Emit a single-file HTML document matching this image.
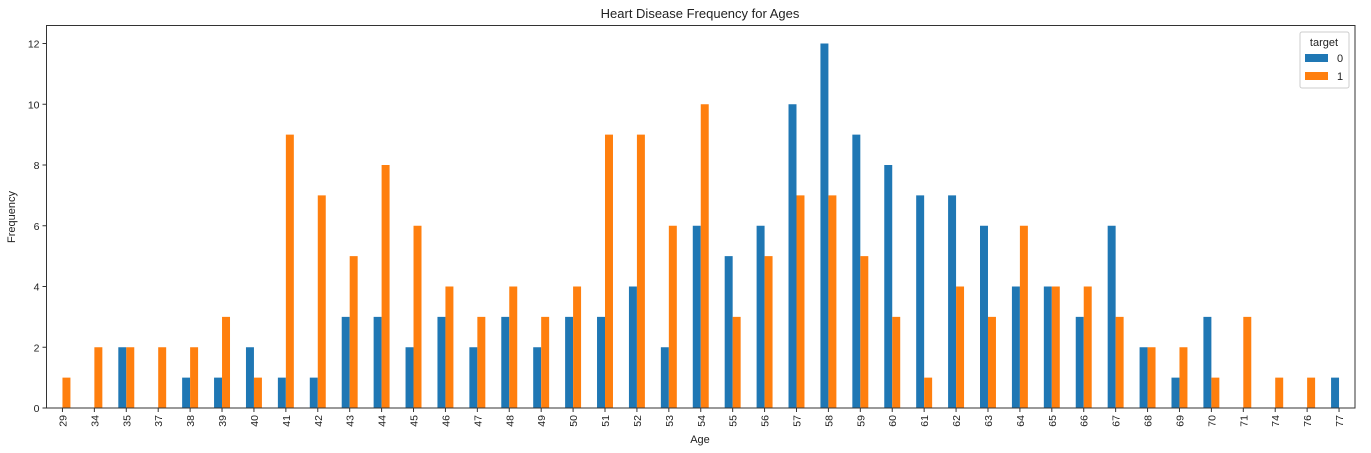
<!DOCTYPE html>
<html><head><meta charset="utf-8"><style>
html,body{margin:0;padding:0;background:#fff;}
svg{display:block;font-family:"Liberation Sans","DejaVu Sans",sans-serif;}
</style></head><body>
<svg id="chart" width="1371" height="453">
<text x="700" y="18" text-anchor="middle" font-size="13" fill="#222">Heart Disease Frequency for Ages</text>
<g id="bars"></g>
<g id="axes"></g>
<text x="700" y="443" text-anchor="middle" font-size="11" fill="#222">Age</text>
<text transform="translate(15,217) rotate(-90)" text-anchor="middle" font-size="11" fill="#222">Frequency</text>
<g>
<rect x="1300" y="32" width="49" height="56" rx="2" fill="#fff" stroke="#ccc"/>
<text x="1324" y="46" text-anchor="middle" font-size="11" fill="#222">target</text>
<g><rect x="1305" y="54" width="23" height="8" fill="#1f77b4"/><text x="1337" y="62" font-size="11" fill="#222">0</text></g>
<g><rect x="1305" y="72" width="23" height="8" fill="#ff7f0e"/><text x="1337" y="80" font-size="11" fill="#222">1</text></g>
</g>
</svg>
<script>
const ages=[29,34,35,37,38,39,40,41,42,43,44,45,46,47,48,49,50,51,52,53,54,55,56,57,58,59,60,61,62,63,64,65,66,67,68,69,70,71,74,76,77];
const target0=[0,0,2,0,1,1,2,1,1,3,3,2,3,2,3,2,3,3,4,2,6,5,6,10,12,9,8,7,7,6,4,4,3,6,2,1,3,0,0,0,1];
const target1=[1,2,2,2,2,3,1,9,7,5,8,6,4,3,4,3,4,9,9,6,10,3,5,7,7,5,3,1,4,3,6,4,4,3,2,2,1,3,1,1,0];
const yTicks=[0,2,4,6,8,10,12];
const NS="http://www.w3.org/2000/svg";
const L=46.5,R=1355,T=25.5,B=408;
const step=(R-L)/ages.length;
const xC=i=>L+step*(i+0.5);
const yS=v=>B-v*(B-43.5)/12;
const bw=step*0.25;
const bars=document.getElementById('bars'),axes=document.getElementById('axes');
function mk(tag,attrs,parent){const e=document.createElementNS(NS,tag);for(const k in attrs)e.setAttribute(k,attrs[k]);parent.appendChild(e);return e;}
ages.forEach((a,i)=>{
 const c=xC(i);
 if(target0[i]>0){const r=mk('rect',{x:c-bw,y:yS(target0[i]),width:bw,height:B-yS(target0[i]),fill:'#1f77b4'},bars);
 
 }
 if(target1[i]>0){const r=mk('rect',{x:c,y:yS(target1[i]),width:bw,height:B-yS(target1[i]),fill:'#ff7f0e'},bars);
 
 }
 mk('line',{x1:c,x2:c,y1:B,y2:B+4,stroke:'#333'},axes);
 const t=mk('text',{transform:`translate(${c+4},${B+7}) rotate(-90)`,'text-anchor':'end','font-size':'10.5',fill:'#222'},axes);
 t.textContent=a;
 
 
});
yTicks.forEach(v=>{
 const y=yS(v);
 mk('line',{x1:L-4,x2:L,y1:y,y2:y,stroke:'#333'},axes);
 const t=mk('text',{x:L-7,y:y+4,'text-anchor':'end','font-size':'10.5',fill:'#222'},axes);
 t.textContent=v;
 
 
});
const f=mk('rect',{x:L,y:T,width:R-L,height:B-T,fill:'none',stroke:'#333','stroke-width':1},axes);


</script>
</body></html>
